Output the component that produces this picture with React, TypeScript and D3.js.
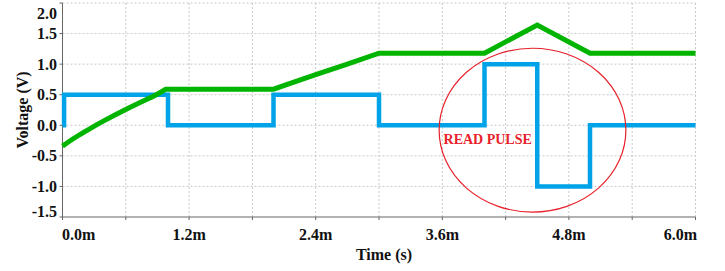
import React from "react";
import * as d3 from "d3";

const xTicks = [0, 0.6, 1.2, 1.8, 2.4, 3.0, 3.6, 4.2, 4.8, 5.4, 6.0];
const xLabelTicks = [0, 1.2, 2.4, 3.6, 4.8, 6.0];
const yTicks = [-1.5, -1.0, -0.5, 0.0, 0.5, 1.0, 1.5, 2.0];

const blueT = [0, 0.015, 0.015, 1.0, 1.0, 2.0, 2.0, 3.0, 3.0, 4.0, 4.0, 4.5, 4.5, 5.0, 5.0, 6.0];
const blueV = [0, 0, 0.5, 0.5, 0, 0, 0.5, 0.5, 0, 0, 1.0, 1.0, -1.0, -1.0, 0, 0];

// charging curve (smooth part)
const greenCurveT = [0, 0.12, 0.245, 0.4, 0.59, 0.72, 0.88, 0.98];
const greenCurveV = [-0.34, -0.2, -0.07, 0.08, 0.25, 0.36, 0.49, 0.59];
// piecewise-linear part
const greenT = [0.98, 2.0, 2.2, 2.4, 2.7, 3.0, 4.0, 4.5, 5.0, 6.0];
const greenV = [0.59, 0.59, 0.71, 0.83, 1.0, 1.18, 1.18, 1.64, 1.18, 1.18];

const annotation = { text: "READ PULSE", t: 4.455, v: -0.08, rt: 0.885, rv: 1.34, textT: 4.03, textV: -0.24 };

export default function App() {
  const x = d3.scaleLinear().domain([0, 6]).range([62.5, 695.5]);
  const y = d3.scaleLinear().domain([-1.5, 2.0]).range([217, 3]);
  const curve = d3
    .line<[number, number]>()
    .x((d) => x(d[0]))
    .y((d) => y(d[1]))
    .curve(d3.curveMonotoneX);
  const line = d3
    .line<[number, number]>()
    .x((d) => x(d[0]))
    .y((d) => y(d[1]));
  const blue = line(blueT.map((t, i) => [t, blueV[i]]) as [number, number][]) || "";
  const greenA = curve(greenCurveT.map((t, i) => [t, greenCurveV[i]]) as [number, number][]) || "";
  const greenB = (line(greenT.map((t, i) => [t, greenV[i]]) as [number, number][]) || "").replace(/^M/, "L");
  const green = greenA + greenB;
  const font = "'Liberation Serif', 'Times New Roman', serif";
  const fmtX = (v: number) => v.toFixed(1) + "m";
  const fmtY = (v: number) => v.toFixed(1);
  const cx = x(annotation.t);
  const cy = y(annotation.v);
  const rx = x(annotation.t + annotation.rt) - cx;
  const ry = cy - y(annotation.v + annotation.rv);
  return (
    <svg
      width={725}
      height={271}
      style={{ position: "absolute", left: 0, top: 0, background: "#fff" }}
    >
      <g>
        {xTicks.slice(1).map((t) => (
          <line key={"gx" + t} x1={x(t)} x2={x(t)} y1={y(2.0)} y2={y(-1.5)} stroke="#c8c8c8" strokeWidth={1} strokeDasharray="2,2" />
        ))}
        {yTicks.slice(1).map((v) => (
          <line key={"gy" + v} x1={x(0)} x2={x(6)} y1={y(v)} y2={y(v)} stroke="#c8c8c8" strokeWidth={1} strokeDasharray="2,2" />
        ))}
      </g>
      <line x1={x(0)} x2={x(0)} y1={y(2.0)} y2={y(-1.5)} stroke="#666" strokeWidth={1} />
      <line x1={x(0)} x2={x(6)} y1={y(-1.5)} y2={y(-1.5)} stroke="#666" strokeWidth={1} />
      {yTicks.map((v) => (
        <line key={"ty" + v} x1={x(0) - 3} x2={x(0)} y1={y(v)} y2={y(v)} stroke="#666" strokeWidth={1} />
      ))}
      {xTicks.map((t) => (
        <line key={"tx" + t} x1={x(t)} x2={x(t)} y1={y(-1.5)} y2={y(-1.5) + 3} stroke="#666" strokeWidth={1} />
      ))}
      {yTicks.map((v) => (
        <text
          key={"ly" + v}
          x={57}
          y={Math.min(Math.max(y(v), 13), 211)}
          textAnchor="end"
          dominantBaseline="central"
          fontFamily={font}
          fontWeight="bold"
          fontSize={16}
          fill="#111"
        >
          {fmtY(v)}
        </text>
      ))}
      {xLabelTicks.map((t, i) => (
        <text
          key={"lx" + t}
          x={i === 0 ? x(t) - 0.5 : i === xLabelTicks.length - 1 ? x(t) + 1.5 : x(t)}
          y={240}
          textAnchor={i === 0 ? "start" : i === xLabelTicks.length - 1 ? "end" : "middle"}
          fontFamily={font}
          fontWeight="bold"
          fontSize={16}
          fill="#111"
        >
          {fmtX(t)}
        </text>
      ))}
      <text x={384} y={260} textAnchor="middle" fontFamily={font} fontWeight="bold" fontSize={16} fill="#111">
        Time (s)
      </text>
      <text
        transform="translate(22,110) rotate(-90)"
        textAnchor="middle"
        dominantBaseline="central"
        fontFamily={font}
        fontWeight="bold"
        fontSize={16}
        fill="#111"
      >
        Voltage (V)
      </text>
      <path d={blue} fill="none" stroke="#00a2e8" strokeWidth={4.5} strokeLinejoin="miter" />
      <path d={green} fill="none" stroke="#00b400" strokeWidth={5} strokeLinejoin="miter" />
      <ellipse cx={cx} cy={cy} rx={rx} ry={ry} fill="none" stroke="#e8202a" strokeWidth={1.2} />
      <text
        x={x(annotation.textT)}
        y={y(annotation.textV)}
        textAnchor="middle"
        dominantBaseline="central"
        fontFamily={font}
        fontWeight="bold"
        fontSize={14}
        fill="#e8202a"
      >
        {annotation.text}
      </text>
    </svg>
  );
}
